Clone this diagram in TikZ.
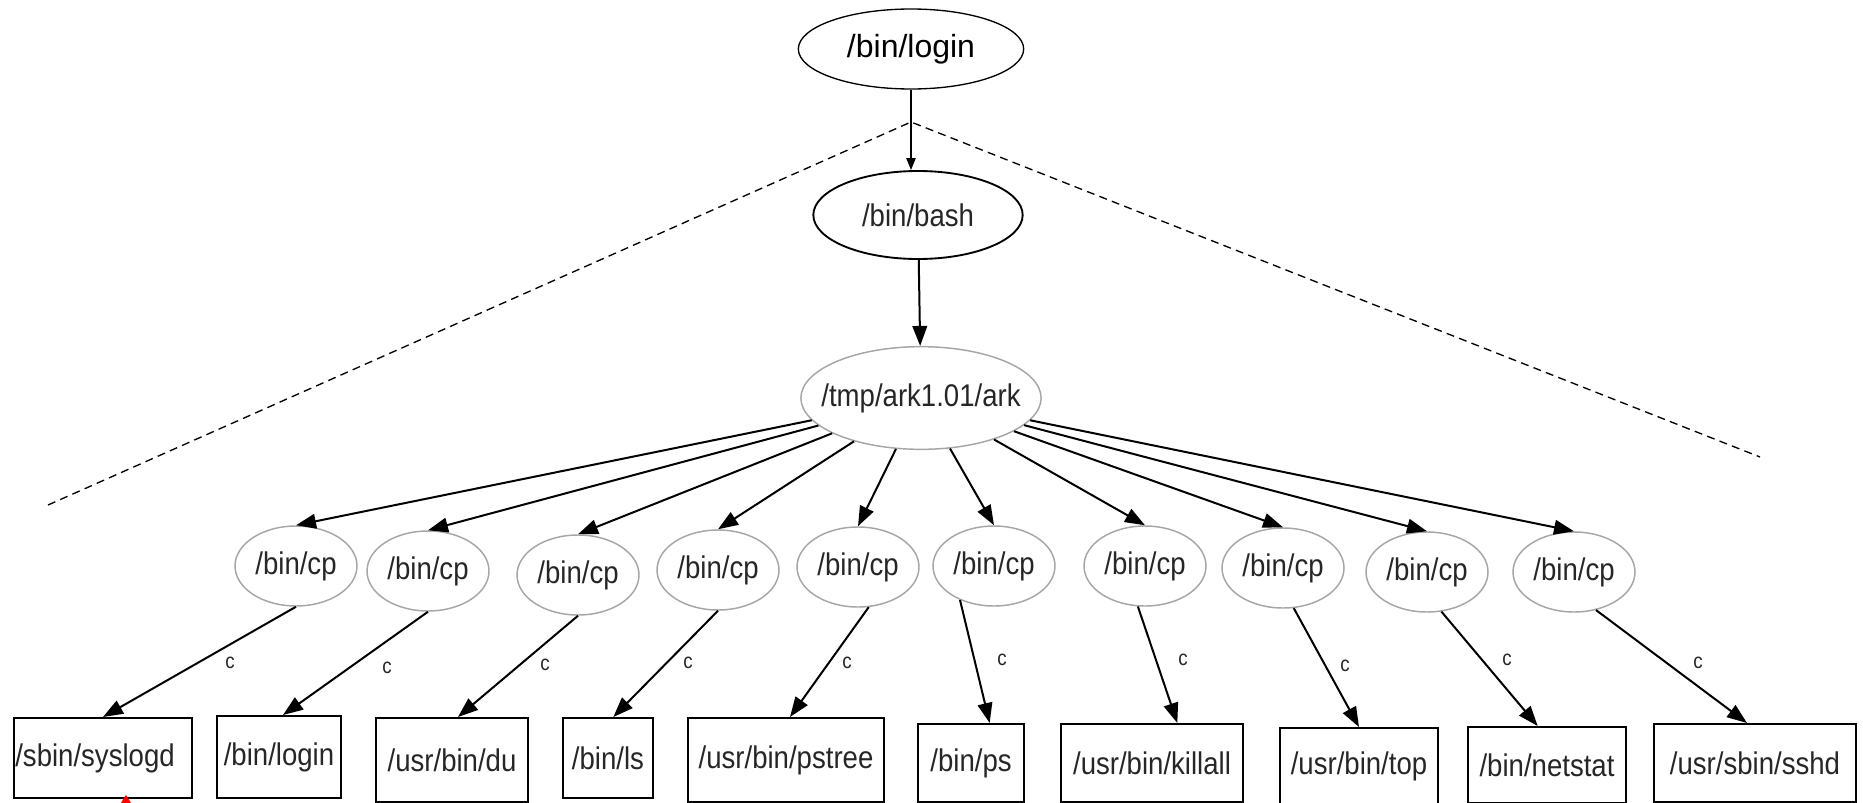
\documentclass[tikz,border=0pt]{standalone}
\usepackage{fontspec}
\setmainfont{Liberation Sans}
\newfontfamily\narrowsans[FakeStretch=0.88]{Liberation Sans}
\usetikzlibrary{shapes.geometric,arrows.meta}

\tikzset{
  proc/.style={ellipse, draw=black!35, line width=1.1pt, inner sep=0pt,
    minimum width=91.5pt, minimum height=60pt,
    font=\narrowsans\fontsize{23.5}{26}\selectfont, text=black!85},
  filebox/.style={rectangle, draw=black, line width=1.5pt, inner sep=0pt,
    font=\narrowsans\fontsize{23.5}{26}\selectfont, text=black!85},
  elabel/.style={font=\narrowsans\fontsize{16}{18}\selectfont, text=black!85, inner sep=0pt},
  spawn/.style={line width=1.5pt, -{Triangle[length=15pt,width=11pt]}},
}

\begin{document}
\begin{tikzpicture}[x=0.75pt,y=0.75pt,yscale=-1,xscale=1]
    \useasboundingbox (0,0) rectangle (1863,803);

    % top of the chain
    \node (login) at (911,49) [ellipse, draw, line width=1pt, inner sep=0pt, minimum width=169pt, minimum height=60pt, font=\fontsize{24}{28}\selectfont] {/bin/login};
    \node (bash) at (918,215) [ellipse, draw, line width=1.4pt, inner sep=0pt, minimum width=157pt, minimum height=66pt, font=\narrowsans\fontsize{23.5}{26}\selectfont, text=black!85] {/bin/bash};
    \node (ark) at (921,398) [proc, inner xsep=-11pt, minimum width=178pt, minimum height=77pt] {/tmp/ark1.01/ark};

    % dashed fan
    \coordinate (apex) at (911,122);
    \coordinate (fanl) at (48,505);
    \coordinate (fanr) at (1760,457);
    \draw [line width=1pt, dash pattern={on 6pt off 4pt}] (fanl) -- (apex) -- (fanr);

    % copy processes
    \node (cp1) at (296,566) [proc] {/bin/cp};
    \node (cp2) at (428,571) [proc] {/bin/cp};
    \node (cp3) at (578,575) [proc] {/bin/cp};
    \node (cp4) at (718,570) [proc] {/bin/cp};
    \node (cp5) at (858,567) [proc] {/bin/cp};
    \node (cp6) at (994,566) [proc] {/bin/cp};
    \node (cp7) at (1145,566) [proc] {/bin/cp};
    \node (cp8) at (1283,568) [proc] {/bin/cp};
    \node (cp9) at (1427,572) [proc] {/bin/cp};
    \node (cp10) at (1574,572) [proc] {/bin/cp};

    % files that get replaced
    \node (syslogd) at (103,758) [filebox, minimum width=133.5pt, minimum height=60pt] {\hspace*{-12pt}/sbin/syslogd};
    \node (blogin) at (279,757) [filebox, minimum width=93pt, minimum height=61.5pt] {/bin/login};
    \node (du) at (452,760) [filebox, minimum width=114pt, minimum height=63pt] {/usr/bin/du};
    \node (ls) at (608,758) [filebox, minimum width=67.5pt, minimum height=60pt] {/bin/ls};
    \node (pstree) at (786,760) [filebox, minimum width=147pt, minimum height=63pt] {/usr/bin/pstree};
    \node (ps) at (971,763) [filebox, minimum width=79pt, minimum height=58.5pt] {/bin/ps};
    \node (killall) at (1152,763) [filebox, minimum width=136pt, minimum height=58.5pt] {/usr/bin/killall};
    \node (top) at (1359,766) [filebox, minimum width=118.5pt, minimum height=57pt] {/usr/bin/top};
    \node (netstat) at (1547,765) [filebox, minimum width=118.5pt, minimum height=57pt] {/bin/netstat};
    \node (sshd) at (1755,763) [filebox, minimum width=151.5pt, minimum height=58.5pt] {/usr/sbin/sshd};

    % edge labels
    \node (c1) at (230,663) [elabel] {c};
    \node (c2) at (387,668) [elabel] {c};
    \node (c3) at (545,665) [elabel] {c};
    \node (c4) at (688,663) [elabel] {c};
    \node (c5) at (847,663) [elabel] {c};
    \node (c6) at (1002,660) [elabel] {c};
    \node (c7) at (1183,660) [elabel] {c};
    \node (c8) at (1345,666) [elabel] {c};
    \node (c9) at (1507,660) [elabel] {c};
    \node (c10) at (1698,663) [elabel] {c};

    % exec chain
    \draw [line width=1pt, -{Triangle[length=9pt,width=7pt]}] (login.south) -- (login.south |- bash.north);
    \draw [spawn] (bash) -- (ark);

    % ark forks
    \draw [spawn] (ark) -- (cp1.north);
    \draw [spawn] (ark) -- (cp2.north);
    \draw [spawn] (ark) -- (cp3.north);
    \draw [spawn] (ark) -- (cp4.north);
    \draw [spawn] (ark) -- (cp5.north);
    \draw [spawn] (ark) -- (cp6.north);
    \draw [spawn] (ark) -- (cp7.north);
    \draw [spawn] (ark) -- (cp8.north);
    \draw [spawn] (ark) -- (cp9.north);
    \draw [spawn] (ark) -- (cp10.north);

    % copies
    \draw [spawn] (cp1.south) -- (syslogd.north);
    \draw [spawn] (cp2.south) -- ([xshift=3pt]blogin.north);
    \draw [spawn] (cp3.south) -- ([xshift=4.5pt]du.north);
    \draw [spawn] (cp4.south) -- ([xshift=4pt]ls.north);
    \draw [spawn] (cp5.285) -- ([xshift=3pt]pstree.north);
    \draw [spawn] (cp6.225) -- ([xshift=14pt]ps.north);
    \draw [spawn] (cp7.260) -- ([xshift=19pt]killall.north);
    \draw [spawn] (cp8.285) -- (top.north);
    \draw [spawn] (cp9.290) -- ([xshift=-7pt]netstat.north);
    \draw [spawn] (cp10.300) -- ([xshift=-6pt]sshd.north);

    % red marker
    \fill [red] (119,806) -- (126,795) -- (133,806) -- cycle;
\end{tikzpicture}
\end{document}
